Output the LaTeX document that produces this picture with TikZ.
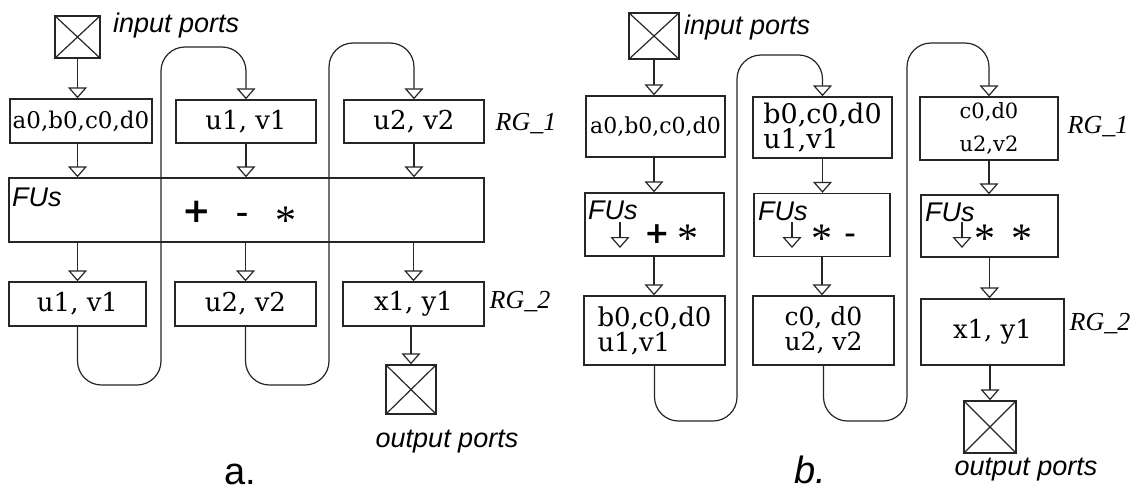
\documentclass[tikz,border=0pt]{standalone}
\usepackage{fontspec}
\usetikzlibrary{arrows.meta}
\newfontfamily\boxfont{DejaVu Serif}
\newfontfamily\rgfont{Liberation Serif}
\newfontfamily\lblfont{Liberation Sans}
\newfontfamily\opfont{DejaVu Sans}
\begin{document}
\begin{tikzpicture}[x=1pt,y=-1pt,
  ln/.style={line width=1.2pt, draw=black!85},
  boxn/.style={draw=black!85, line width=1.4pt, inner sep=0pt, font=\boxfont\fontsize{26}{27}\selectfont},
  port/.style={draw=black!85, line width=1.4pt, inner sep=0pt},
  conn/.style={line width=1.2pt, draw=black!85, -{Triangle[open, width=19pt, length=11pt, line width=1.2pt]}},
  loopc/.style={conn, rounded corners=24pt},
  lbl/.style={font=\lblfont\itshape\fontsize{27}{30}\selectfont, inner sep=0pt},
  rg/.style={font=\rgfont\itshape\fontsize{26}{30}\selectfont, inner sep=0pt},
  opb/.style={font=\opfont\bfseries\fontsize{34}{34}\selectfont, inner sep=0pt},
  opm/.style={font=\opfont\bfseries\fontsize{24}{24}\selectfont, inner sep=0pt, anchor=base},
  opa/.style={font=\rgfont\fontsize{42}{42}\selectfont, inner sep=0pt, anchor=base},
]
\useasboundingbox (0,0) rectangle (1136,490);
\fill[white] (0,0) rectangle (1136,490);

%%%%%%%%%%%%%%%% part a
\node[port, minimum width=45pt, minimum height=42pt] (inA) at (77.5,37) {};
\draw[ln] (inA.north west) -- (inA.south east) (inA.north east) -- (inA.south west);
\node[lbl, anchor=west] (inAl) at (113,26) {input ports};

\node[boxn, minimum width=142pt, minimum height=44pt, font=\boxfont\fontsize{23}{26}\selectfont] (a0) at (81,121) {a0,b0,c0,d0};
\node[boxn, minimum width=140pt, minimum height=43pt] (u1t) at (246,121.5) {u1, v1};
\node[boxn, minimum width=140pt, minimum height=43pt] (u2t) at (414,121.5) {u2, v2};
\node[rg] (rg1a) at (526,124) {RG\_1};

\node[boxn, minimum width=475pt, minimum height=64pt] (fu) at (246.5,210) {};
\node[lbl, anchor=west] (ful) at (12,197) {FUs};
\node[opb] (plusA) at (197,212) {+};
\node[opm] (minusA) at (242,221) {–};
\node[opa] (astA) at (286,234) {*};

\node[boxn, minimum width=137pt, minimum height=44pt] (b1) at (77.5,304) {u1, v1};
\node[boxn, minimum width=141pt, minimum height=44pt] (b2) at (245.5,304) {u2, v2};
\node[boxn, minimum width=141pt, minimum height=44pt] (b3) at (413.5,304) {x1, y1};
\node[rg] (rg2a) at (520,302) {RG\_2};

\node[port, minimum width=50pt, minimum height=49pt] (outA) at (411,389.5) {};
\draw[ln] (outA.north west) -- (outA.south east) (outA.north east) -- (outA.south west);
\node[lbl] (outAl) at (447,442) {output ports};
\node[font=\lblfont\fontsize{38}{40}\selectfont, inner sep=0pt] (capA) at (240,474) {a.};

\draw[conn] (inA.south) -- (inA.south |- a0.north);
\draw[conn] (inA.south |- a0.south) -- (inA.south |- fu.north);
\draw[conn] (u1t.south) -- (u1t.south |- fu.north);
\draw[conn] (u2t.south) -- (u2t.south |- fu.north);
\draw[conn] (b1.north |- fu.south) -- (b1.north);
\draw[conn] (b2.north |- fu.south) -- (b2.north);
\draw[conn] (b3.north |- fu.south) -- (b3.north);
\draw[conn] (b3.south -| outA.north) -- (outA.north);
\draw[loopc] (b1.south) -- (b1.south |- 0,385) -- (161,385) -- (161,47) -- (u1t.north |- 0,47) -- (u1t.north);
\draw[loopc] (b2.south) -- (b2.south |- 0,385) -- (329,385) -- (329,43) -- (u2t.north |- 0,43) -- (u2t.north);

%%%%%%%%%%%%%%%% part b
\node[port, minimum width=50pt, minimum height=46pt] (inB) at (654,36) {};
\draw[ln] (inB.north west) -- (inB.south east) (inB.north east) -- (inB.south west);
\node[lbl, anchor=west] (inBl) at (684,28) {input ports};

\node[boxn, minimum width=139pt, minimum height=61pt, font=\boxfont\fontsize{22}{26}\selectfont] (a0B) at (655.5,126.5) {a0,b0,c0,d0};
\node[boxn, minimum width=139pt, minimum height=61pt, align=left, font=\boxfont\fontsize{27}{25}\selectfont] (t2B) at (822.5,127.5) {b0,c0,d0\\u1,v1};
\node[boxn, minimum width=138pt, minimum height=63pt, align=center, font=\boxfont\fontsize{21}{33}\selectfont] (t3B) at (989,128.5) {c0,d0\\u2,v2};
\node[rg] (rg1b) at (1098,127) {RG\_1};

\node[boxn, minimum width=139pt, minimum height=63pt] (fuB1) at (654.5,224.5) {};
\node[boxn, minimum width=136pt, minimum height=63pt] (fuB2) at (822,225) {};
\node[boxn, minimum width=137pt, minimum height=62pt] (fuB3) at (989.5,226) {};
\node[lbl, anchor=west] (fuB1l) at (588,210) {FUs};
\node[lbl, anchor=west] (fuB2l) at (758,211) {FUs};
\node[lbl, anchor=west] (fuB3l) at (925,212) {FUs};
\coordinate (k1s) at (620,222); \coordinate (k1e) at (620,248);
\coordinate (k2s) at (792,222); \coordinate (k2e) at (792,248);
\coordinate (k3s) at (962,222); \coordinate (k3e) at (962,248);
\draw[conn] (k1s) -- (k1e);
\draw[conn] (k2s) -- (k2e);
\draw[conn] (k3s) -- (k3e);
\node[opb, font=\opfont\bfseries\fontsize{30}{30}\selectfont] (plusB) at (657,234) {+};
\node[opa] (astB1) at (688,252) {*};
\node[opa] (astB2) at (822,252) {*};
\node[opm, font=\opfont\bfseries\fontsize{22}{22}\selectfont] (minusB) at (850,241) {–};
\node[opa] (astB3) at (985,252) {*};
\node[opa] (astB4) at (1022,252) {*};

\node[boxn, minimum width=141pt, minimum height=69pt, align=left, font=\boxfont\fontsize{26}{25}\selectfont] (bb1) at (654.5,330.5) {b0,c0,d0\\u1,v1};
\node[boxn, minimum width=141pt, minimum height=69pt, align=left, font=\boxfont\fontsize{25}{25}\selectfont] (bb2) at (823.5,330.5) {c0, d0\\u2, v2};
\node[boxn, minimum width=143pt, minimum height=66pt] (bb3) at (992.5,332) {x1, y1};
\node[rg] (rg2b) at (1100,324) {RG\_2};

\node[port, minimum width=52pt, minimum height=52pt] (outB) at (990,427) {};
\draw[ln] (outB.north west) -- (outB.south east) (outB.north east) -- (outB.south west);
\node[lbl] (outBl) at (1026,470) {output ports};
\node[font=\lblfont\itshape\fontsize{38}{40}\selectfont, inner sep=0pt] (capB) at (810,470) {b.};

\draw[conn] (inB.south) -- (inB.south |- a0B.north);
\draw[conn] (inB.south |- a0B.south) -- (inB.south |- fuB1.north);
\draw[conn] (inB.south |- fuB1.south) -- (inB.south |- bb1.north);
\draw[conn] (t2B.south) -- (t2B.south |- fuB2.north);
\draw[conn] (fuB2.south) -- (fuB2.south |- bb2.north);
\draw[conn] (t3B.south) -- (t3B.south |- fuB3.north);
\draw[conn] (fuB3.south) -- (fuB3.south |- bb3.north);
\draw[conn] (bb3.south -| outB.north) -- (outB.north);
\draw[loopc] (bb1.south) -- (bb1.south |- 0,421) -- (737,421) -- (737,55) -- (t2B.north |- 0,55) -- (t2B.north);
\draw[loopc] (bb2.south) -- (bb2.south |- 0,421) -- (907,421) -- (907,43) -- (t3B.north |- 0,43) -- (t3B.north);
\end{tikzpicture}
\end{document}
